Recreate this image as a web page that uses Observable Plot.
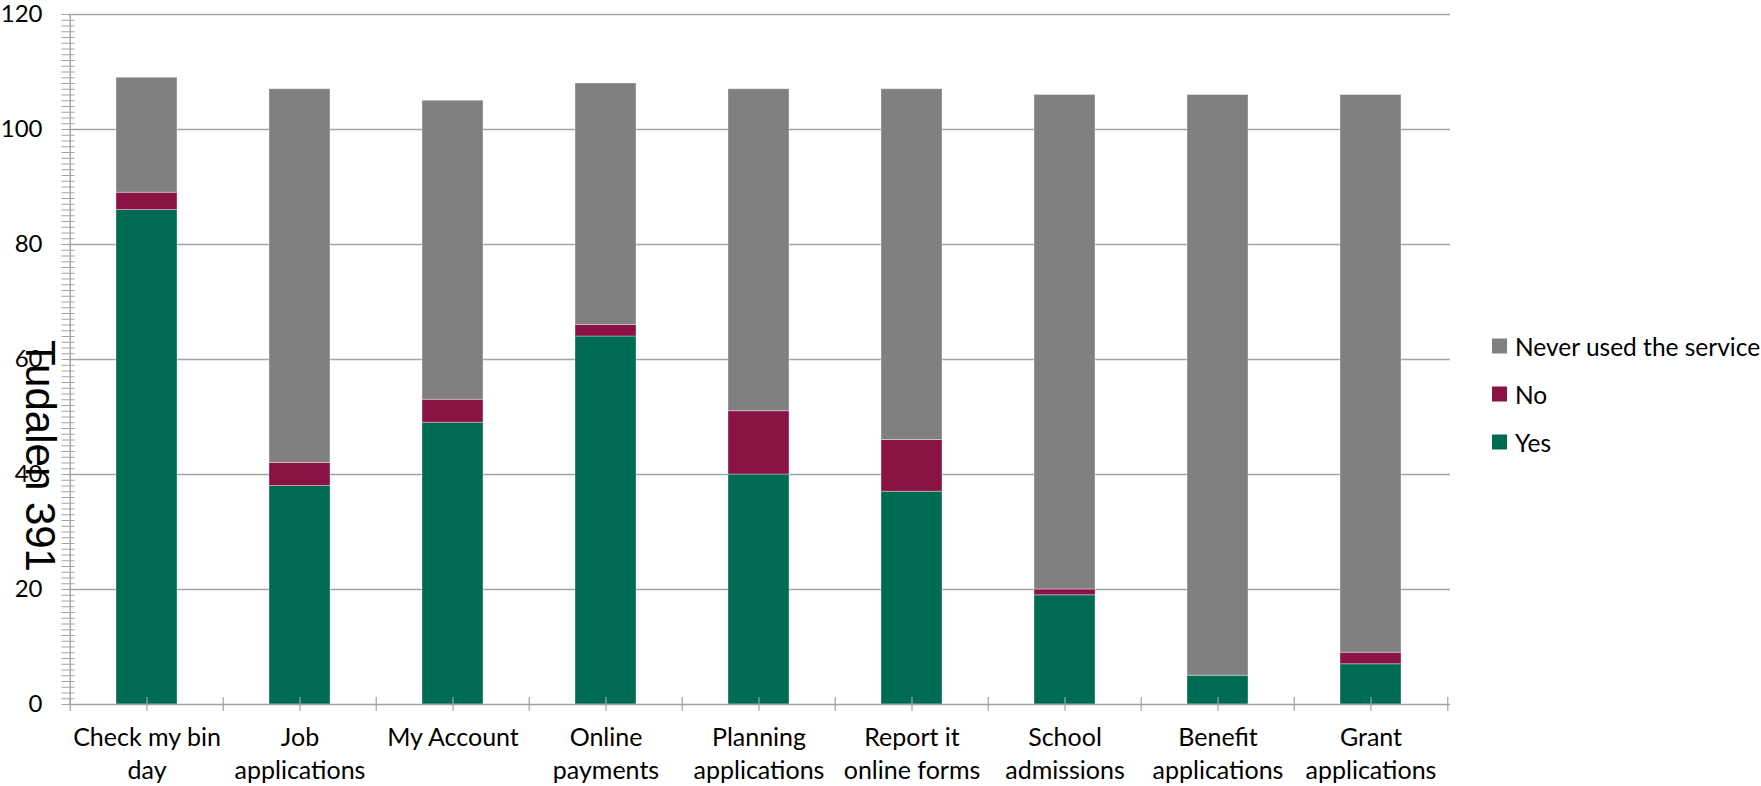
<!DOCTYPE html>
<html>
<head>
<meta charset="utf-8">
<script src="https://cdn.jsdelivr.net/npm/d3@7"></script>
<script src="https://cdn.jsdelivr.net/npm/@observablehq/plot@0.6"></script>
<style>
  html, body { margin: 0; padding: 0; background: #fff; }
  #wrap { position: relative; width: 1761px; height: 786px; overflow: hidden; }
  #chart svg { display: block; }
  .legend { position: absolute; left: 1492px; top: 0; font-family: Lato, "Liberation Sans", sans-serif; font-size: 24.5px; color: #000; }
  .legend .item { position: absolute; left: 0; display: flex; align-items: center; white-space: nowrap; transform: translateY(-50%); }
  .legend .sw { width: 15px; height: 15px; margin-right: 8px; flex: none; }
  .page { position: absolute; left: 39.5px; top: 455.5px; transform: translate(-50%, -50%) rotate(90deg);
          font-family: "Liberation Sans", Arial, sans-serif; font-size: 42px; color: #000; white-space: nowrap; line-height: 1; }
</style>
</head>
<body>
<div id="wrap">
  <div id="chart"></div>
  <div class="legend" id="legend"></div>
  <div class="page">Tudalen 391</div>
</div>
<script>
// ---- data ----
const categories = ["Check my bin day", "Job applications", "My Account", "Online payments",
  "Planning applications", "Report it online forms", "School admissions", "Benefit applications", "Grant applications"];
const categoryLabels = ["Check my bin\nday", "Job\napplications", "My Account", "Online\npayments",
  "Planning\napplications", "Report it\nonline forms", "School\nadmissions", "Benefit\napplications", "Grant\napplications"];
const series = ["Yes", "No", "Never used the service"];
const yesValues   = [86, 38, 49, 64, 40, 37, 19, 5, 7];
const noValues    = [3, 4, 4, 2, 11, 9, 1, 0, 2];
const neverValues = [20, 65, 52, 42, 56, 61, 86, 101, 97];
const yTickValues = [0, 20, 40, 60, 80, 100, 120];
const legendOrder = ["Never used the service", "No", "Yes"];
const seriesColors = ["#006B54", "#8A1244", "#808080"];

// ---- build table ----
const valuesBySeries = {"Yes": yesValues, "No": noValues, "Never used the service": neverValues};
const table = [];
series.forEach(s => categories.forEach((c, i) => table.push({category: c, series: s, value: valuesBySeries[s][i]})));

// ---- layout ----
const W = 1761, H = 786, ML = 68, MR = 311, MT = 14, MB = 82;
const step = (W - ML - MR) / categories.length;
const axisGray = "#a3a3a3";
const labelFont = "Lato, 'Liberation Sans', sans-serif";

const chart = Plot.plot({
  width: W, height: H,
  marginLeft: ML, marginRight: MR, marginTop: MT, marginBottom: MB,
  style: {fontFamily: labelFont, fontSize: "25px", color: "#000", background: "#fff", overflow: "visible"},
  x: {domain: categories, paddingInner: 0.6, paddingOuter: 0.3, axis: null, label: null},
  y: {domain: [0, 120], axis: null, label: null},
  color: {domain: series, range: seriesColors},
  marks: [
    Plot.gridY(yTickValues.filter(d => d > 0), {stroke: axisGray, strokeOpacity: 1, strokeWidth: 1.4}),
    Plot.barY(table, {x: "category", y: "value", fill: "series", order: series,
      stroke: "#ffffff", strokeOpacity: 0.35, strokeWidth: 1}),
    // axis lines
    Plot.ruleY([0], {stroke: axisGray, strokeWidth: 1.4}),
    Plot.ruleX([categories[0]], {x: d => d, dx: -step / 2, y1: 0, y2: 120, stroke: axisGray, strokeWidth: 1.4}),
    // y minor ticks crossing the axis
    Plot.axisY({ticks: d3.range(0, 121, 1), tickSize: 13, dx: 6.5, text: null, label: null, stroke: axisGray, strokeWidth: 1}),
    // y labels
    Plot.axisY({ticks: yTickValues, tickSize: 0, tickPadding: 26, label: null, fontSize: 24, fontFamily: labelFont, fill: "#000"}),
    // x ticks: centers and band boundaries
    Plot.axisX({ticks: categories, tickSize: 14, dy: -7, text: null, label: null, stroke: axisGray, strokeWidth: 1.2}),
    Plot.axisX({ticks: categories, tickSize: 14, dy: -7, dx: -step / 2, text: null, label: null, stroke: axisGray, strokeWidth: 1.2}),
    Plot.axisX({ticks: [categories[categories.length - 1]], tickSize: 14, dy: -7, dx: step / 2, text: null, label: null, stroke: axisGray, strokeWidth: 1.2}),
    // x labels
    Plot.axisX({ticks: categories, tickFormat: d => categoryLabels[categories.indexOf(d)], label: null,
      tickSize: 0, tickPadding: 18, lineHeight: 1.33, fontSize: 25, fontFamily: labelFont, fill: "#000"})
  ]
});
document.getElementById("chart").appendChild(chart);

// ---- legend ----
const legend = document.getElementById("legend");
const legendY = [346, 394, 442];
legendOrder.forEach((s, i) => {
  const item = document.createElement("div");
  item.className = "item";
  item.style.top = legendY[i] + "px";
  const sw = document.createElement("span");
  sw.className = "sw";
  sw.style.background = seriesColors[series.indexOf(s)];
  const t = document.createElement("span");
  t.textContent = s;
  item.appendChild(sw); item.appendChild(t);
  legend.appendChild(item);
});
</script>
</body>
</html>
